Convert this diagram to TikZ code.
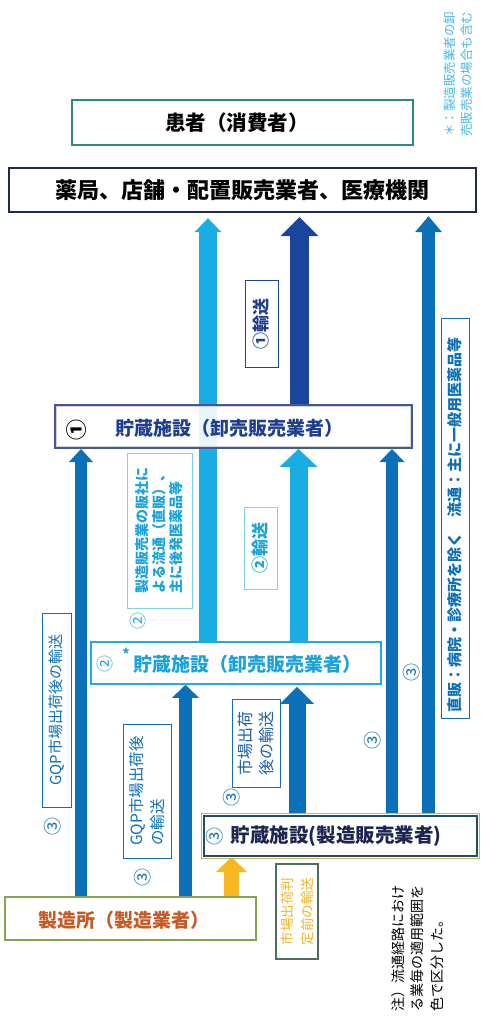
\documentclass[tikz,border=0pt]{standalone}
\usepackage{fontspec}
\setmainfont{Noto Sans CJK JP}
\usetikzlibrary{arrows.meta}
\definecolor{lblue}{HTML}{1AADE3}
\definecolor{lbluetext}{HTML}{1AA3DB}
\definecolor{lblueline}{HTML}{7DD3EE}
\definecolor{navy}{HTML}{1B459C}
\definecolor{mblue}{HTML}{0B70B7}
\definecolor{mbluetext}{HTML}{1D5EA8}
\definecolor{amber}{HTML}{F8B620}
\definecolor{ambertext}{HTML}{F5B324}
\definecolor{tealb}{HTML}{2A8B7F}
\definecolor{pharmb}{HTML}{1E2E4A}
\definecolor{sonebord}{HTML}{41599C}
\definecolor{sonetext}{HTML}{1F3E8E}
\definecolor{sthreeb}{HTML}{1D4F5C}
\definecolor{sthreetext}{HTML}{1C2450}
\definecolor{olivel}{HTML}{B9BE5A}
\definecolor{mfgb}{HTML}{82A44C}
\definecolor{mfgtext}{HTML}{C65A26}
\definecolor{notel}{HTML}{45B6E6}
\pgfdeclarelayer{bg}
\pgfsetlayers{bg,main}
\tikzset{
  boxst/.style={draw, fill=white, inner sep=0pt, line width=1.6pt},
  titlest/.style={inner sep=0pt},
  labst/.style={draw, line width=0.8pt, rotate=90, inner sep=0pt, align=left, fill=white},
  numst/.style={rotate=90, inner sep=0pt, font=\fontsize{18}{18}\selectfont},
  barrow/.style n args={4}{draw=#1, line width=#2, -{Triangle[width=#3,length=#4,line width=0pt]}},
}
\begin{document}
\begin{tikzpicture}[x=1pt,y=-1pt]
\path[use as bounding box] (0,0) rectangle (480,1029);

% main boxes
\node[boxst, draw=tealb, minimum width=341pt, minimum height=45pt] (pat) at (242.5,122.5) {};
\node[boxst, draw=pharmb, line width=2.4pt, minimum width=467pt, minimum height=44pt] (pharm) at (242.5,190) {};
\node[boxst, draw=sonebord, fill opacity=0.9, line width=2pt, minimum width=357pt, minimum height=43pt] (s1) at (233.5,426.5) {};
\draw[gray!35, line width=1.2pt] ([shift={(2.2pt,2.2pt)}]s1.south west) rectangle ([shift={(-2.2pt,-2.2pt)}]s1.north east);
\node[boxst, draw=lblue, minimum width=290pt, minimum height=42pt] (s2) at (236,663) {};
\node[boxst, draw=olivel, line width=0.8pt, minimum width=278pt, minimum height=45pt] (s3o) at (340.5,836) {};
\node[boxst, draw=sthreeb, line width=2pt, minimum width=273pt, minimum height=40pt] (s3) at (340.5,836) {};
\node[boxst, draw=mfgb, line width=1.8pt, minimum width=251pt, minimum height=43pt] (mfg) at (130.5,918.5) {};

% titles
\node[titlest, font=\bfseries\fontsize{20.5}{24}\selectfont] (tpat) at (237,123) {患者（消費者）};
\node[titlest, font=\bfseries\fontsize{22}{26}\selectfont] (tph) at (243,190) {薬局、店舗・配置販売業者、医療機関};
\node[numst, font=\bfseries\fontsize{21}{21}\selectfont] (n1) at (77,430) {①};
\node[titlest, text=sonetext, font=\bfseries\fontsize{19}{23}\selectfont] (ts1) at (229,428) {貯蔵施設（卸売販売業者）};
\node[numst, text=lbluetext, font=\fontsize{17}{17}\selectfont] (n2) at (105,664) {②};
\node[titlest, text=lbluetext, font=\bfseries\fontsize{14}{14}\selectfont] (star) at (126,654) {*};
\node[titlest, text=lbluetext, font=\bfseries\fontsize{19}{23}\selectfont] (ts2) at (247.5,664) {貯蔵施設（卸売販売業者）};
\node[numst, text=mblue] (n3) at (215,836) {③};
\node[titlest, text=sthreetext, font=\bfseries\fontsize{19.5}{23}\selectfont] (ts3) at (336,836) {貯蔵施設(製造販売業者)};
\node[titlest, text=mfgtext, font=\bfseries\fontsize{19}{23}\selectfont] (tmfg) at (124,920) {製造所（製造業者）};

% labels
\node[labst, draw=navy, text=sonetext, font=\bfseries\fontsize{17}{20}\selectfont, minimum width=87pt, minimum height=33pt] (l1) at (261.5,323.5) {①輸送};
\node[labst, draw=lblueline, text=lbluetext, font=\bfseries\fontsize{17}{20}\selectfont, minimum width=82pt, minimum height=33pt] (l2) at (260.5,548) {②輸送};
\node[labst, draw=lblueline, text=lbluetext, font=\bfseries\fontsize{14}{17}\selectfont, minimum width=155pt, minimum height=65pt] (l3) at (159.5,530.5) {製造販売業の販社に\\よる流通（直販）、\\主に後発医薬品等};
\node[labst, draw=mblue, text=mblue, font=\fontsize{15}{18}\selectfont, minimum width=194pt, minimum height=29pt] (l4) at (56.5,710) {GQP市場出荷後の輸送};
\node[labst, draw=mblue, text=mblue, font=\fontsize{15.5}{21}\selectfont, minimum width=134pt, minimum height=48pt] (l5) at (147,791) {GQP市場出荷後\\の輸送};
\node[labst, draw=mblue, text=mbluetext, font=\fontsize{16}{21}\selectfont, minimum width=88pt, minimum height=48pt] (l6) at (256,743) {市場出荷\\後の輸送};
\node[labst, draw=sthreeb!70!olivel, line width=1.4pt, text=ambertext, font=\fontsize{13.5}{20}\selectfont, minimum width=95pt, minimum height=42pt] (l7) at (297,911.5) {市場出荷判\\定前の輸送};
\node[labst, draw=mblue, text=mblue, font=\bfseries\fontsize{15}{18}\selectfont, minimum width=400pt, minimum height=28pt] (l8) at (455,518) {直販：病院・診療所を除く　流通：主に一般用医薬品等\rule{14pt}{0pt}};
\node[labst, draw=none, fill=none, font=\fontsize{14}{19.5}\selectfont] (note) at (417.5,948) {注）流通経路におけ\\る業毎の適用範囲を\\色で区分した。};
\node[labst, draw=none, fill=none, text=notel, font=\fontsize{12.5}{17}\selectfont] (star2) at (458.5,74) {＊：製造販売業者の卸\\売販売業の場合も含む};

% standalone circled numbers
\node[numst, text=lbluetext, font=\fontsize{17}{17}\selectfont] (c2a) at (138,621) {②};
\node[numst, text=mblue] (c3a) at (53,826) {③};
\node[numst, text=mblue] (c3b) at (143,877) {③};
\node[numst, text=mblue] (c3c) at (232,797) {③};
\node[numst, text=mblue] (c3d) at (373,740) {③};
\node[numst, text=mblue] (c3e) at (412,672) {③};

% arrow columns
\coordinate (xa) at (208,0);
\coordinate (xb) at (299.5,0);
\coordinate (xc) at (428.5,0);
\coordinate (xd) at (392,0);
\coordinate (xe) at (81,0);
\coordinate (xf) at (298.5,0);
\coordinate (xg) at (185.5,0);
\coordinate (xh) at (297,0);
\coordinate (xi) at (231.5,0);

\begin{pgfonlayer}{bg}
\draw[barrow={lblue}{18.5pt}{27pt}{14pt}, shorten >=5pt] (s2.north -| xa) -- (pharm.south -| xa);
\draw[barrow={navy}{19pt}{38pt}{19pt}, shorten >=4pt] (s1.north -| xb) -- (pharm.south -| xb);
\draw[barrow={mblue}{13pt}{27pt}{16pt}, shorten >=3pt] (s3.north -| xc) -- (pharm.south -| xc);
\draw[barrow={mblue}{12pt}{25pt}{13pt}] (s3.north -| xd) -- (s1.south -| xd);
\draw[barrow={mblue}{12pt}{24pt}{13pt}] (mfg.north -| xe) -- (s1.south -| xe);
\draw[barrow={lblue}{18pt}{38pt}{18pt}] (s2.north -| xf) -- (s1.south -| xf);
\draw[barrow={mblue}{13pt}{27pt}{13pt}] (mfg.north -| xg) -- (s2.south -| xg);
\draw[barrow={mblue}{17pt}{34pt}{17pt}, shorten >=2pt] (s3.north -| xh) -- (s2.south -| xh);
\draw[barrow={amber}{15pt}{31pt}{15pt}] (mfg.north -| xi) -- (s3.south -| xi);
\end{pgfonlayer}
\end{tikzpicture}
\end{document}
